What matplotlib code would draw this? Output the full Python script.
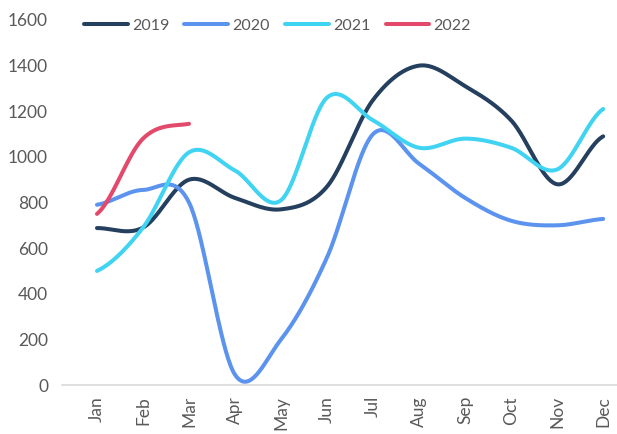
import numpy as np
import matplotlib
matplotlib.use("Agg")
import matplotlib.pyplot as plt

months = ["Jan", "Feb", "Mar", "Apr", "May", "Jun", "Jul", "Aug", "Sep", "Oct", "Nov", "Dec"]
s2019 = [688, 690, 900, 820, 770, 870, 1250, 1400, 1310, 1160, 880, 1090]
s2020 = [790, 855, 800, 45, 200, 560, 1100, 970, 820, 720, 700, 728]
s2021 = [500, 690, 1020, 940, 810, 1260, 1160, 1040, 1080, 1040, 945, 1210]
s2022 = [750, 1080, 1145]

series = [("2019", s2019, "#253f5f"), ("2020", s2020, "#5b93ee"),
          ("2021", s2021, "#40d3f2"), ("2022", s2022, "#e2496a")]


def smooth(y, n=40):
    """Catmull-Rom curve through the points (like a smoothed line chart)."""
    y = np.asarray(y, float)
    x = np.arange(len(y), dtype=float)
    m = np.zeros_like(y)
    if len(y) > 2:
        m[1:-1] = (y[2:] - y[:-2]) / 2
    m[0] = (y[1] - y[0]) / 2 if len(y) > 1 else 0
    m[-1] = (y[-1] - y[-2]) / 2 if len(y) > 1 else 0
    xs, ys = [], []
    for i in range(len(y) - 1):
        t = np.linspace(0, 1, n, endpoint=(i == len(y) - 2))
        h00 = 2 * t**3 - 3 * t**2 + 1
        h10 = t**3 - 2 * t**2 + t
        h01 = -2 * t**3 + 3 * t**2
        h11 = t**3 - t**2
        xs.append(x[i] + t)
        ys.append(h00 * y[i] + h10 * m[i] + h01 * y[i + 1] + h11 * m[i + 1])
    return np.concatenate(xs), np.concatenate(ys)


plt.rcParams["font.family"] = ["Lato", "DejaVu Sans"]
fig = plt.figure(figsize=(6.17, 4.34), dpi=100)
ax = fig.add_axes([62 / 617, 1 - 385 / 434, 1 - 62 / 617, (385 - 20) / 434])

handles = []
for name, vals, col in series:
    xs, ys = smooth(vals)
    h, = ax.plot(xs, ys, color=col, lw=2.9, solid_capstyle="round", label=name)
    handles.append(h)

ax.set_xlim(-0.76, 11.3)
ax.set_ylim(0, 1600)
ax.set_yticks(range(0, 1601, 200))
ax.set_xticks(range(12))
ax.set_xticklabels(months, rotation=90)
for s in ["top", "right", "left"]:
    ax.spines[s].set_visible(False)
ax.spines["bottom"].set_color("#d9d9d9")
ax.spines["bottom"].set_linewidth(1.2)
ax.tick_params(axis="both", length=0, colors="#595959", labelsize=12.5)
ax.tick_params(axis="y", pad=10)
ax.tick_params(axis="x", pad=8)

fig.legend(handles=handles, loc="center left", bbox_to_anchor=(76 / 617, 1 - 26 / 434), ncol=4,
           frameon=False, fontsize=11.5, handlelength=2.75, handletextpad=0.25,
           columnspacing=0.95, borderpad=0, labelcolor="#595959")

fig.savefig("out.png", dpi=100)
